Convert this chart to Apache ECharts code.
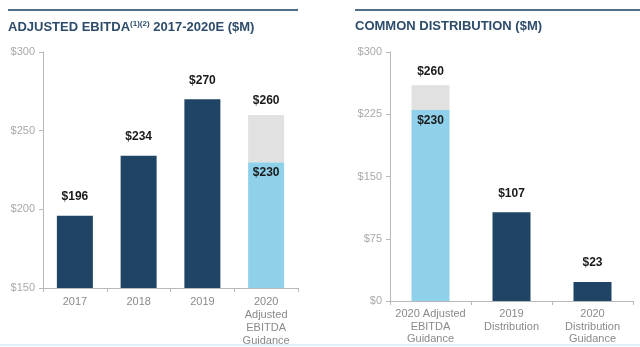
<!DOCTYPE html>
<html>
<head>
<meta charset="utf-8">
<script src="https://cdn.jsdelivr.net/npm/echarts@6/dist/echarts.min.js"></script>
<style>html,body{margin:0;padding:0;background:#fff;}#c{width:640px;height:347px;}</style>
</head>
<body>
<div id="c"></div>
<script>
// Left chart data
var leftCategories = ['2017', '2018', '2019', '2020\nAdjusted\nEBITDA\nGuidance'];
var leftBase = [196, 234, 270, 230];
var leftExtra = [0, 0, 0, 30];
var leftTotals = [196, 234, 270, 260];
// Right chart data
var rightCategories = ['2020 Adjusted\nEBITDA\nGuidance', '2019\nDistribution', '2020\nDistribution\nGuidance'];
var rightBase = [230, 107, 23];
var rightExtra = [30, 0, 0];
var rightTotals = [260, 107, 23];

var NAVY = '#1f4466', LIGHT = '#8fd0ea', GREY = '#e1e1e1';
var axisLabelColor = '#a9a9a9', catColor = '#8a8a8a', lineColor = '#b8b8b8';
var font = 'Liberation Sans, Arial, sans-serif';

var chart = echarts.init(document.getElementById('c'), null, {renderer: 'canvas'});

function baseSeries(vals, xi, lightIdx, barW) {
  return {
    type: 'bar', xAxisIndex: xi, yAxisIndex: xi, stack: 's' + xi, barWidth: barW,
    data: vals.map(function (v, i) {
      var isLight = i === lightIdx;
      return {
        value: v,
        itemStyle: {color: isLight ? LIGHT : NAVY},
        label: {
          show: true,
          position: isLight ? 'insideTop' : 'top',
          distance: isLight ? 5 : 13,
          formatter: '$' + v,
          color: '#1a1a1a', fontWeight: 'bold', fontSize: 12, fontFamily: font
        }
      };
    })
  };
}
function extraSeries(vals, totals, xi, barW) {
  return {
    type: 'bar', xAxisIndex: xi, yAxisIndex: xi, stack: 's' + xi, barWidth: barW,
    itemStyle: {color: GREY},
    data: vals.map(function (v, i) {
      return {
        value: v,
        label: {
          show: v > 0, position: 'top', distance: 8,
          formatter: '$' + totals[i],
          color: '#1a1a1a', fontWeight: 'bold', fontSize: 12, fontFamily: font
        }
      };
    })
  };
}
function xAxis(gi, cats, lh) {
  return {
    type: 'category', gridIndex: gi, data: cats,
    axisLine: {lineStyle: {color: lineColor, width: 1}},
    axisTick: {show: true, alignWithLabel: false, length: 4, lineStyle: {color: lineColor}},
    axisLabel: {color: catColor, fontSize: 11, fontFamily: font, lineHeight: lh, margin: 7, interval: 0}
  };
}
function yAxis(gi, min, max, interval) {
  return {
    type: 'value', gridIndex: gi, min: min, max: max, interval: interval,
    axisLine: {show: true, lineStyle: {color: lineColor, width: 1}},
    axisTick: {show: true, length: 4, lineStyle: {color: lineColor}},
    splitLine: {show: false},
    axisLabel: {color: axisLabelColor, fontSize: 11, fontFamily: font, margin: 8,
      formatter: function (v) { return '$' + v; }}
  };
}

chart.setOption({
  animation: false,
  textStyle: {fontFamily: font},
  grid: [
    {left: 43, right: 342, top: 52, bottom: 58},
    {left: 390, right: 7, top: 52, bottom: 46}
  ],
  xAxis: [xAxis(0, leftCategories, 13), xAxis(1, rightCategories, 12.5)],
  yAxis: [yAxis(0, 150, 300, 50), yAxis(1, 0, 300, 75)],
  title: [
    {text: '{m|ADJUSTED EBITDA}{s|(1)(2)}{m| 2017-2020E ($M)}', left: 8, top: 20, padding: 0,
      textStyle: {rich: {
        m: {fontSize: 13, fontWeight: 'bold', color: '#2d4c6b', fontFamily: font},
        s: {fontSize: 8, fontWeight: 'bold', color: '#2d4c6b', fontFamily: font, verticalAlign: 'top', padding: [0, 0, 6, 0]}
      }}},
    {text: 'COMMON DISTRIBUTION ($M)', left: 355, top: 20, padding: 0,
      textStyle: {fontSize: 13, fontWeight: 'bold', color: '#2d4c6b', fontFamily: font}}
  ],
  graphic: [
    {type: 'line', shape: {x1: 8, y1: 10, x2: 298, y2: 10}, style: {stroke: '#4f6e8a', lineWidth: 2}},
    {type: 'line', shape: {x1: 355, y1: 10, x2: 640, y2: 10}, style: {stroke: '#4f6e8a', lineWidth: 2}},
    {type: 'line', shape: {x1: 0, y1: 345, x2: 640, y2: 345}, style: {stroke: '#d6ebf7', lineWidth: 1.5}}
  ],
  series: [
    baseSeries(leftBase, 0, 3, 36),
    extraSeries(leftExtra, leftTotals, 0, 36),
    baseSeries(rightBase, 1, 0, 38),
    extraSeries(rightExtra, rightTotals, 1, 38)
  ]
});
</script>
</body>
</html>
